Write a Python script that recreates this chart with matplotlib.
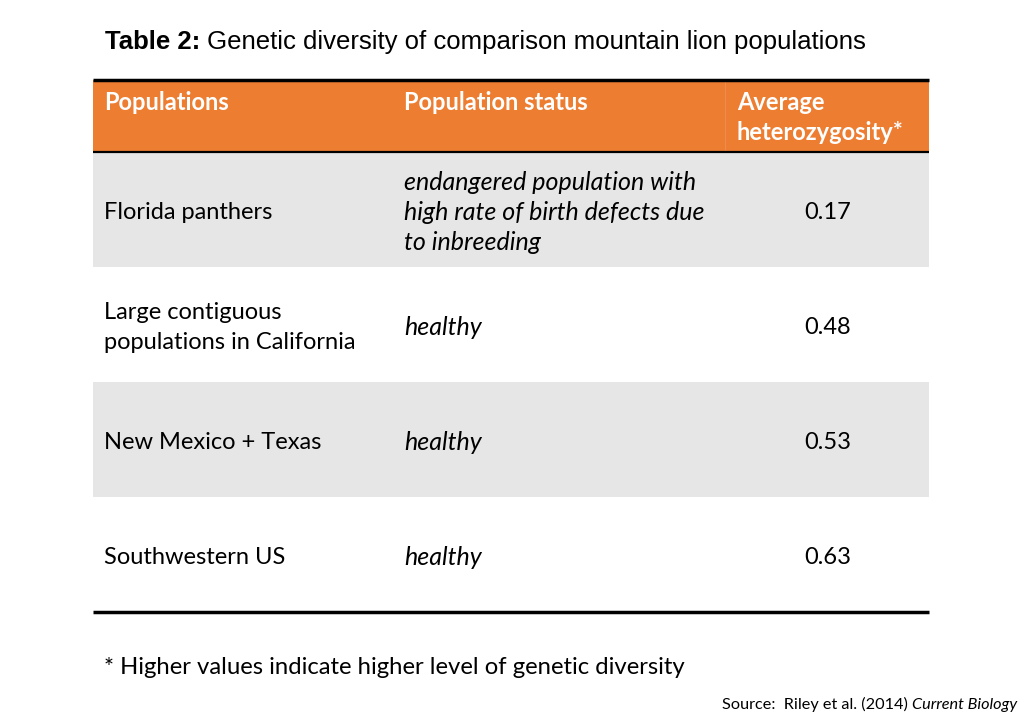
import matplotlib.pyplot as plt
from matplotlib.patches import Rectangle

# table content
populations = ["Florida panthers", "Large contiguous\npopulations in California",
               "New Mexico + Texas", "Southwestern US"]
statuses = ["endangered population with\nhigh rate of birth defects due\nto inbreeding",
            "healthy", "healthy", "healthy"]
heterozygosity = [0.17, 0.48, 0.53, 0.63]
headers = ["Populations", "Population status", "Average\nheterozygosity*"]

orange = "#ED7D31"
grey = "#E7E6E6"
body_font = "Lato"
line_gap = 30.5

fig = plt.figure(figsize=(10.24, 7.28), dpi=100)
ax = fig.add_axes([0, 0, 1, 1])
ax.set_xlim(0, 1024)
ax.set_ylim(728, 0)
ax.axis("off")


def draw_lines(x, yc, txt, **kw):
    # one text per line so the spacing matches the reference
    lines = txt.split("\n")
    y_first = yc - line_gap * (len(lines) - 1) / 2
    for k, ln in enumerate(lines):
        ax.text(x, y_first + k * line_gap, ln, va="center", ha="left", **kw)


left, right = 93, 929
head_top, head_bot = 80, 152
row_h = 115
col_x = [104, 404, 737]
val_x = 828

# header
ax.add_patch(Rectangle((left, head_top), right - left, head_bot - head_top,
                       facecolor=orange, edgecolor="none"))
ax.plot([725, 725], [head_top, head_bot], color="#F08C4A", lw=0.8)
for x, h in zip(col_x, headers):
    lines = h.split("\n")
    for k, ln in enumerate(lines):
        ax.text(x, 103 + k * 30, ln, color="white", fontsize=17, fontweight="bold",
                family=body_font, va="center", ha="left")

# body rows
for i, (pop, st, val) in enumerate(zip(populations, statuses, heterozygosity)):
    y0 = head_bot + i * row_h
    yc = y0 + row_h / 2 + 3
    if i % 2 == 0:
        ax.add_patch(Rectangle((left, y0), right - left, row_h,
                               facecolor=grey, edgecolor="none"))
    draw_lines(col_x[0], yc, pop, fontsize=17, family=body_font, color="black")
    draw_lines(col_x[1], yc, st, fontsize=18, family=body_font, style="italic",
               color="black")
    ax.text(val_x, yc, f"{val:.2f}", fontsize=17, family=body_font,
            va="center", ha="center", color="black")

bottom = head_bot + len(populations) * row_h
ax.plot([left, right], [head_top, head_top], color="black", lw=2.5, solid_capstyle="butt")
ax.plot([left, right], [head_bot, head_bot], color="black", lw=1.6, solid_capstyle="butt")
ax.plot([left, right], [bottom, bottom], color="black", lw=2.5, solid_capstyle="butt")

# title: bold label then regular text on the same baseline
fig.canvas.draw()
t1 = ax.text(105, 49, "Table 2:", fontsize=18.5, fontweight="bold",
             family="Liberation Sans", va="baseline", ha="left")
bb = t1.get_window_extent(fig.canvas.get_renderer())
x_end = ax.transData.inverted().transform((bb.x1, bb.y0))[0]
ax.text(x_end, 49, " Genetic diversity of comparison mountain lion populations",
        fontsize=18.5, family="Liberation Sans", va="baseline", ha="left")

# footnote and source
ax.text(104, 668, "* Higher values indicate higher level of genetic diversity",
        fontsize=17.2, family=body_font, va="center", ha="left")
s1 = ax.text(1017, 709, "Current Biology", fontsize=11.7, style="italic",
             family=body_font, va="baseline", ha="right")
bb = s1.get_window_extent(fig.canvas.get_renderer())
x_start = ax.transData.inverted().transform((bb.x0, bb.y0))[0]
ax.text(x_start, 709, "Source:  Riley et al. (2014) ", fontsize=11.7,
        family=body_font, va="baseline", ha="right")

fig.savefig("out.png", dpi=100)
